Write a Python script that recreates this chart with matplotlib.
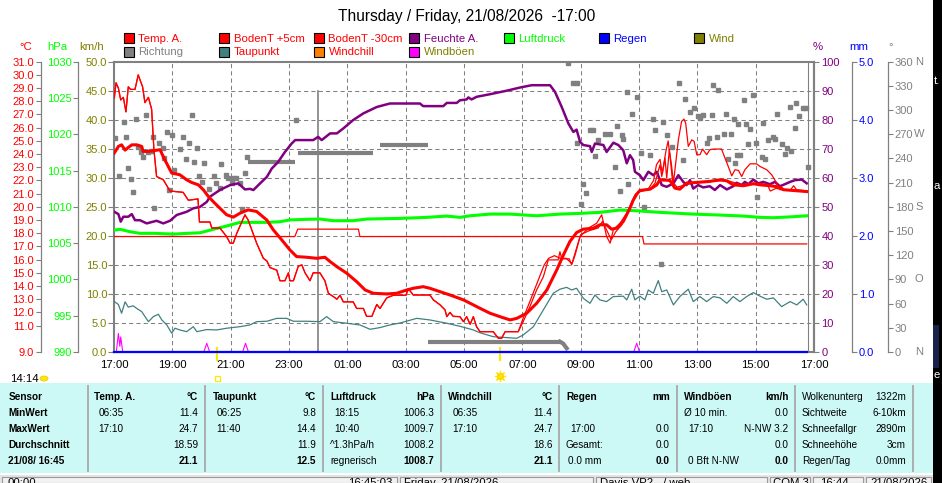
import matplotlib
matplotlib.use("Agg")
import matplotlib.pyplot as plt
import matplotlib.transforms as mtransforms
from matplotlib.patches import Rectangle, Ellipse
import numpy as np

plt.rcParams['font.family'] = ['Liberation Sans', 'DejaVu Sans']

# ---------------- data (time = hours since Thursday 00:00) ----------------
hour_ticks = [17, 19, 21, 23, 25, 27, 29, 31, 33, 35, 37, 39, 41]
hour_labels = ['17:00', '19:00', '21:00', '23:00', '01:00', '03:00', '05:00',
               '07:00', '09:00', '11:00', '13:00', '15:00', '17:00']

temp_ticks = [31, 30, 29, 28, 27, 26, 25, 24, 23, 22, 21, 20, 19, 18, 17, 16, 15, 14, 13, 12, 11, 9]
hpa_ticks = [1030, 1025, 1020, 1015, 1010, 1005, 1000, 995, 990]
kmh_ticks = [50, 45, 40, 35, 30, 25, 20, 15, 10, 5, 0]
pct_ticks = [100, 90, 80, 70, 60, 50, 40, 30, 20, 10, 0]
mm_ticks = [5.0, 4.0, 3.0, 2.0, 1.0, 0.0]
deg_ticks = [360, 330, 300, 270, 240, 210, 180, 150, 120, 90, 60, 30, 0]
deg_letters = [(360, 'N'), (270, 'W'), (180, 'S'), (90, 'O'), (0, 'N')]

# Temp. A. (thick red)
temp_a = [(17.01,24.08),(17.15,24.58),(17.26,24.7),(17.38,24.3),(17.49,24.5),(17.61,24.7),(17.78,24.7),
          (17.95,24.58),(18.0,24.2),(18.18,24.2),(18.58,24.33),(18.69,23.8),(18.86,23.06),(18.98,22.56),
          (19.26,22.43),(19.49,22.05),(19.66,21.85),(19.89,21.67),(20.06,21.3),(20.23,20.8),(20.40,20.4),
          (20.63,19.9),(20.86,19.4),(21.09,19.22),(21.32,19.52),(21.60,19.77),(21.89,19.65),(22.24,19.0),
          (22.46,18.26),(22.75,17.5),(23.03,16.74),(23.26,16.23),(23.61,16.18),(23.95,16.1),(24.23,16.18),
          (24.41,15.85),(24.64,15.47),(24.98,14.97),(25.32,14.33),(25.61,13.7),(25.89,13.45),(26.35,13.4),
          (26.69,13.45),(27.04,13.7),(27.26,13.83),(27.60,13.95),(27.83,13.83),(28.18,13.57),(28.52,13.32),
          (28.98,12.95),(29.32,12.57),(29.55,12.31),(29.89,11.94),(30.23,11.68),(30.58,11.43),(30.81,11.55),
          (31.15,11.94),(31.49,12.69),(31.84,13.7),(32.18,15.22),(32.41,16.36),(32.63,17.37),(32.86,18.05),
          (33.09,18.31),(33.43,18.38),(33.66,18.64),(33.89,18.64),(34.06,18.31),(34.23,18.38),(34.46,18.89),
          (34.69,19.9),(34.8,20.5),(34.92,20.95),(35.03,21.24),(35.38,21.34),(35.61,21.67),(35.72,22.05),
          (36.06,22.0),(36.23,21.42),(36.4,21.34),(36.63,21.8),(36.98,21.85),(37.43,21.93),(37.78,22.05),
          (38.01,21.97),(38.23,21.67),(38.58,21.6),(38.92,21.75),(39.15,21.67),(39.49,21.6),(39.83,21.5),
          (39.95,21.3),(40.29,21.24),(40.75,21.16)]

# BodenT +5cm (thin jagged red)
boden_5 = [(17.01,28.25),(17.07,29.4),(17.15,29.0),(17.23,28.1),(17.32,28.3),(17.41,27.2),(17.49,29.1),
           (17.57,28.9),(17.72,28.9),(17.83,30.0),(17.98,29.1),(18.06,27.9),(18.18,28.3),(18.29,27.4),
           (18.37,24.3),(18.46,22.3),(18.69,22.05),(18.92,21.2),(19.37,21.1),(19.55,20.5),(19.88,20.6),
           (19.93,18.85),(20.29,18.85),(20.35,18.4),(20.63,18.4),(20.86,17.75),(20.98,17.25),(21.09,17.25),
           (21.21,18.0),(21.49,19.4),(21.60,19.0),(21.89,17.25),(22.12,16.1),(22.24,15.9),(22.35,15.4),
           (22.58,15.2),(22.69,14.4),(22.86,14.4),(22.98,15.0),(23.03,14.4),(23.15,14.4),(23.32,15.5),
           (23.44,15.6),(23.55,15.0),(23.72,14.4),(23.83,15.0),(24.06,15.0),(24.23,14.4),(24.35,13.45),
           (24.52,13.2),(24.64,13.0),(24.75,13.3),(24.86,12.8),(25.20,12.8),(25.32,12.3),(25.55,12.3),
           (25.66,11.7),(25.84,11.7),(26.01,12.6),(26.12,12.3),(26.35,13.1),(26.58,13.3),(27.01,13.3),
           (27.09,13.8),(27.26,13.32),(27.83,13.32),(27.95,12.95),(28.18,12.57),(28.35,12.19),(28.41,11.68),
           (28.52,12.0),(28.63,11.7),(28.86,11.68),(28.98,11.3),(29.09,11.68),(29.21,11.1),(29.32,11.68),
           (29.43,10.92),(29.55,10.54),(30.0,10.54),(30.18,10.04),(30.29,10.04),(30.41,10.54),(30.86,10.54),
           (31.03,11.3),(31.26,12.44),(31.49,13.7),(31.72,14.7),(31.89,15.98),(32.23,15.98),(32.29,16.6),
           (32.35,16.06),(32.61,16.06),(32.69,15.6),(32.81,16.36),(32.98,17.75),(33.26,18.38),(33.55,18.76),
           (33.72,19.4),(33.89,17.75),(34.01,17.25),(34.12,18.26),(34.35,18.76),(34.58,19.52),(34.69,20.03),
           (34.86,20.9),(35.03,21.16),(35.38,21.34),(35.55,21.8),(35.66,22.68),(35.72,23.19),(35.78,22.3),
           (35.89,23.7),(35.95,22.18),(36.04,24.33),(36.12,23.06),(36.18,21.8),(36.35,25.08),(36.46,26.47),
           (36.54,26.65),(36.6,26.35),(36.69,24.58),(36.81,25.08),(36.89,24.96),(36.98,23.95),(37.09,23.95),
           (37.18,24.38),(37.32,23.95),(37.43,24.33),(37.55,24.38),(37.83,24.38),(37.95,23.7),(38.06,23.06),
           (38.18,22.35),(38.29,22.81),(38.41,22.76),(38.52,22.3),(38.63,22.81),(38.81,23.26),(39.03,23.26),
           (39.15,23.06),(39.38,22.81),(39.55,22.43),(39.72,21.8),(39.83,21.3),(40.18,21.3),(40.75,21.16)]

# second thin red trace (differs from BodenT +5cm during the day)
temp_b_day = [(31.0,11.4),(31.2,12.5),(31.5,14.2),(31.75,15.6),(31.9,16.1),(32.1,16.3),(32.3,16.1),
              (32.5,16.1),(32.7,15.7),(32.85,16.8),(33.0,17.9),(33.3,18.2),(33.6,18.4),(33.75,18.9),
              (33.9,18.2),(34.05,17.5),(34.2,18.1),(34.4,18.6),(34.6,19.5),(34.75,20.3),(34.9,21.0),
              (35.05,21.2),(35.3,21.3),(35.5,22.0),(35.6,23.2),(35.72,23.6),(35.8,22.5),(35.92,24.2),
              (36.0,25.0),(36.08,23.5),(36.15,21.9),(36.3,21.5),(36.5,21.6),(37.0,21.9),(38.0,22.0),
              (38.5,21.7),(39.0,21.8),(39.4,21.7),(39.5,21.2),(39.7,21.4),(39.9,21.3),(40.2,21.3),
              (40.3,21.6),(40.4,21.3),(40.75,21.2)]

# BodenT -30cm (flat stepped red)
boden_30 = [(17.0,17.75),(23.2,17.75),(23.3,18.31),(25.38,18.31),(25.43,17.75),(35.12,17.75),
            (35.17,17.19),(40.75,17.19)]

# Taupunkt
dewpoint = [(17.01,12.82),(17.15,12.6),(17.26,11.94),(17.38,12.8),(17.49,12.4),(17.66,12.5),(17.78,12.3),
            (17.95,12.06),(18.18,11.3),(18.35,11.68),(18.52,11.86),(18.64,11.43),(18.81,11.05),(18.98,10.42),
            (19.09,10.8),(19.26,10.67),(19.49,10.54),(19.72,10.92),(19.84,10.54),(20.18,10.7),(20.52,10.67),
            (20.86,10.8),(21.32,10.92),(21.66,11.05),(21.89,11.3),(22.24,11.33),(22.58,11.55),(22.92,11.55),
            (23.15,11.33),(23.61,11.33),(24.06,11.3),(24.29,11.68),(24.52,11.3),(24.98,11.18),(25.43,11.05),
            (25.78,10.72),(26.12,10.85),(26.46,11.05),(26.81,11.2),(27.38,11.55),(27.83,11.43),(28.41,11.18),
            (28.86,10.95),(29.32,10.67),(29.55,10.46),(30.0,10.16),(30.81,10.04),(31.03,10.29),(31.38,10.92),
            (31.72,12.19),(32.06,13.45),(32.29,13.76),(32.52,13.9),(32.69,13.7),(32.86,13.83),(33.09,13.07),
            (33.32,12.69),(33.49,13.32),(33.66,12.95),(33.89,12.82),(34.12,13.2),(34.46,13.23),(34.58,12.95),
            (34.75,13.76),(34.86,12.95),(35.03,13.23),(35.2,12.95),(35.32,13.7),(35.49,13.45),(35.66,14.41),
            (35.78,13.57),(35.95,13.7),(36.18,12.57),(36.4,13.2),(36.69,13.76),(36.86,12.82),(37.09,13.2),
            (37.32,12.82),(37.55,13.2),(37.78,13.1),(38.01,12.69),(38.23,13.2),(38.46,12.82),(38.69,13.2),
            (38.92,13.5),(39.15,13.23),(39.38,13.0),(39.61,13.1),(39.89,12.44),(40.18,12.82),(40.41,12.57),
            (40.63,13.0),(40.75,12.57)]

# Feuchte A. (%)
humidity = [(17.01,48.3),(17.15,47.5),(17.23,44.9),(17.32,46.6),(17.49,46.6),(17.61,47.5),(17.72,45.4),
            (17.89,45.4),(18.12,44.3),(18.46,45.2),(18.69,44.3),(18.92,45.2),(19.15,47.2),(19.49,48.3),
            (19.72,49.5),(19.95,50.0),(20.18,51.7),(20.29,53.5),(20.63,55.8),(20.98,57.5),(21.26,58.1),
            (21.49,56.0),(21.66,56.2),(21.78,55.8),(22.01,58.1),(22.24,60.3),(22.41,63.2),(22.63,65.5),
            (22.86,68.9),(23.09,71.8),(23.21,73.0),(23.83,73.0),(24.0,74.1),(24.12,73.0),(24.41,75.3),
            (24.64,75.3),(24.86,77.0),(25.20,79.9),(25.55,82.2),(25.78,83.3),(26.01,84.4),(26.46,85.6),
            (27.49,85.6),(27.60,84.7),(28.29,84.7),(28.41,85.8),(28.75,85.8),(28.86,86.7),(29.09,87.0),
            (29.15,87.7),(29.26,87.0),(29.43,87.9),(29.89,88.8),(30.46,90.0),(30.92,91.1),(31.32,91.9),
            (31.95,91.9),(32.12,89.6),(32.35,84.4),(32.58,78.7),(32.75,75.8),(32.86,76.6),(32.98,72.4),
            (33.09,71.3),(33.32,70.9),(33.38,68.9),(33.49,71.8),(33.78,71.3),(33.89,68.9),(34.12,72.1),
            (34.29,71.3),(34.46,69.5),(34.58,65.0),(34.69,67.8),(34.8,66.1),(34.86,62.1),(35.03,60.9),
            (35.15,59.2),(35.32,62.1),(35.49,60.9),(35.61,62.1),(35.78,57.5),(35.95,56.9),(36.18,58.1),
            (36.35,60.9),(36.52,58.6),(36.63,57.5),(36.75,59.2),(36.86,56.3),(37.03,57.5),(37.2,56.7),
            (37.43,57.1),(37.6,55.8),(37.78,57.5),(38.01,56.0),(38.23,57.1),(38.35,58.3),(38.52,57.5),
            (38.63,58.6),(38.75,57.8),(38.92,59.4),(39.09,58.1),(39.26,58.6),(39.49,57.8),(39.66,58.6),
            (39.83,57.1),(40.0,57.8),(40.18,58.6),(40.35,59.2),(40.58,59.4),(40.75,58.1)]

# Luftdruck (hPa)
pressure = [(17.01,1006.8),(17.21,1006.9),(17.55,1006.57),(17.89,1006.35),(18.35,1006.35),(19.03,1006.25),
            (19.95,1006.43),(20.40,1006.9),(20.86,1007.36),(21.32,1007.86),(22.24,1007.86),(22.69,1007.95),
            (23.03,1008.2),(23.61,1008.28),(24.06,1008.32),(24.52,1008.09),(25.20,1008.09),(25.66,1008.32),
            (26.81,1008.41),(27.72,1008.55),(28.41,1008.73),(28.86,1008.55),(29.21,1008.77),(29.89,1009.0),
            (30.58,1009.0),(31.49,1008.77),(32.29,1009.0),(32.98,1009.1),(33.66,1009.24),(34.35,1009.56),
            (34.92,1009.46),(35.72,1009.24),(36.86,1009.0),(37.78,1008.87),(38.58,1008.73),(39.15,1008.55),
            (39.61,1008.5),(40.29,1008.64),(40.75,1008.77)]

# Richtung (deg) single readings
direction = [(17.03,265.0),(17.18,218.3),(17.34,285.6),(17.41,267.0),(17.49,227.8),(17.58,214.2),(17.64,198.0),
             (17.75,288.6),(17.81,254.6),(17.92,248.4),(17.98,242.2),(18.10,293.9),(18.18,248.4),(18.26,249.6),
             (18.33,267.0),(18.38,178.2),(18.55,258.8),(18.69,252.6),(18.72,240.2),(18.81,273.2),(18.89,200.9),
             (18.98,269.1),(19.07,225.7),(19.26,251.4),(19.38,267.0),(19.47,239.0),(19.57,258.8),(19.66,293.9),
             (19.74,236.0),(19.84,252.6),(19.92,218.3),(20.01,211.2),(20.09,234.0),(20.27,201.8),(20.43,218.6),
             (20.50,210.0),(20.63,203.0),(20.66,233.1),(20.84,219.5),(20.92,215.4),(21.04,210.0),(21.09,215.4),
             (21.18,215.4),(21.32,209.2),(21.40,177.0),(21.49,221.6),(21.57,242.2),(23.24,287.7),
             (32.58,358.8),(32.73,334.0),(32.88,334.0),(32.89,259.6),(33.0,183.5),(33.09,208.3),(33.18,196.8),
             (33.32,275.3),(33.42,275.3),(33.49,243.1),(33.6,262.9),(33.83,270.3),(34.0,270.3),(34.18,229.0),
             (34.23,280.3),(34.35,200.0),(34.41,269.1),(34.46,263.8),(34.58,322.8),(34.63,208.3),(34.75,295.1),
             (34.92,315.8),(35.06,246.4),(35.17,180.2),(35.38,244.3),(35.49,288.6),(35.55,275.3),(35.75,109.1),
             (35.81,285.6),(35.95,269.1),(36.12,254.6),(36.38,334.0),(36.5,238.1),(36.58,313.7),(36.75,298.0),
             (36.9,302.2),(37.01,292.7),(37.09,289.8),(37.18,293.9),(37.34,258.8),(37.41,265.0),(37.49,293.9),
             (37.55,331.1),(37.66,267.0),(37.72,324.9),(37.91,270.3),(37.98,295.1),(38.06,239.0),(38.14,270.3),
             (38.26,288.6),(38.29,234.0),(38.35,244.3),(38.46,244.3),(38.41,282.7),(38.6,312.5),(38.67,282.7),
             (38.75,257.6),(38.81,276.2),(38.9,318.7),(39.01,259.6),(39.03,192.6),(39.21,241.4),(39.26,284.4),
             (39.32,239.0),(39.43,262.9),(39.58,266.2),(39.66,263.8),(39.72,295.1),(39.89,257.6),(40.0,245.5),
             (40.06,252.6),(40.18,304.2),(40.2,249.6),(40.35,277.4),(40.38,308.4),(40.5,292.7),(40.61,302.2),
             (40.72,302.2),(40.78,229.8)]
# Richtung: periods of constant direction (start, end, deg)
direction_calm = [(21.60, 23.20, 235.2), (23.32, 25.89, 246.4), (26.12, 27.78, 256.3), (27.78, 32.29, 12.8)]
direction_tail = [(32.29, 12.8), (32.40, 10.5), (32.52, 4.6)]

# Windböen (km/h)
gusts = [(17.0,0),(17.08,0),(17.15,3.2),(17.2,1.0),(17.23,2.6),(17.3,0),(20.08,0),(20.18,1.5),(20.28,0),
         (21.41,0),(21.51,1.5),(21.61,0),(34.82,0),(34.92,1.5),(35.02,0),(40.75,0)]
wind = [(17.0,0.0),(40.75,0.0)]
rain = [(17.0,0.0),(40.75,0.0)]

sunset_t, sunrise_t, now_t = 20.52, 30.23, 40.79

legend_items = [("Temp. A.", '#FF0000', '#FF0000'), ("BodenT +5cm", '#FF0000', '#FF0000'),
                ("BodenT -30cm", '#FF0000', '#FF0000'), ("Feuchte A.", '#800080', '#800080'),
                ("Luftdruck", '#00FF00', '#00FF00'), ("Regen", '#0000FF', '#0000FF'),
                ("Wind", '#808000', '#808000'), ("Richtung", '#808080', '#808080'),
                ("Taupunkt", '#408080', '#FF0000'), ("Windchill", '#FF8000', '#FF0000'),
                ("Windböen", '#FF00FF', '#808000')]

# table columns: rows of (left text, right text)
table_cols = [
    [("Sensor", ""), ("MinWert", ""), ("MaxWert", ""), ("Durchschnitt", ""), ("21/08/ 16:45", "")],
    [("Temp. A.", "°C"), ("06:35", "11.4"), ("17:10", "24.7"), ("", "18.59"), ("", "21.1")],
    [("Taupunkt", "°C"), ("06:25", "9.8"), ("11:40", "14.4"), ("", "11.9"), ("", "12.5")],
    [("Luftdruck", "hPa"), ("18:15", "1006.3"), ("10:40", "1009.7"), ("^1.3hPa/h", "1008.2"), ("regnerisch", "1008.7")],
    [("Windchill", "°C"), ("06:35", "11.4"), ("17:10", "24.7"), ("", "18.6"), ("", "21.1")],
    [("Regen", "mm"), ("", ""), ("17:00", "0.0"), ("Gesamt:", "0.0"), ("0.0 mm", "0.0")],
    [("Windböen", "km/h"), ("Ø 10 min.", "0.0"), ("17:10", "N-NW 3.2"), ("", "0.0"), ("0 Bft N-NW", "0.0")],
    [("Wolkenunterg", "1322m"), ("Sichtweite", "6-10km"), ("Schneefallgr", "2890m"), ("Schneehöhe", "3cm"), ("Regen/Tag", "0.0mm")],
]

# ---------------- drawing ----------------
W, H = 942, 483
fig = plt.figure(figsize=(W / 100, H / 100), dpi=100)
def fx(x): return x / W
def fy(y): return 1 - y / H

RED, GREEN, OLIVE, PURPLE = '#FF0000', '#00FF00', '#808000', '#800080'
BLUE, GRAY, TEAL, MAGENTA = '#0000FF', '#808080', '#408080', '#FF00FF'
L, R, T, B = 114.0, 814.0, 61.7, 352.0
rect = [fx(L), fy(B), (R - L) / W, (B - T) / H]

ax = fig.add_axes(rect, label='kmh')
ax.set_xlim(17, 41)
ax.set_ylim(0, 50)
for s in ax.spines.values():
    s.set_color(GRAY); s.set_linewidth(1.5)
ax.set_xticks(hour_ticks)
ax.set_xticklabels(hour_labels)
ax.tick_params(axis='x', length=0, pad=6, labelsize=8.2, labelcolor='black')
ax.set_yticks(kmh_ticks)
ax.set_yticklabels([f"{v:.1f}" for v in kmh_ticks])
ax.tick_params(axis='y', direction='out', length=4.0, width=0.8, color=GRAY, labelcolor=OLIVE,
               labelsize=8, pad=0.8)
for yv in kmh_ticks[1:-1]:
    ax.axhline(yv, color=GRAY, lw=0.75, ls=(0, (4, 3)), zorder=0)
for xv in hour_ticks[1:-1]:
    ax.axvline(xv, color=GRAY, lw=0.75, ls=(0, (4, 3)), zorder=0)
ax.axvline(24, ymin=0, ymax=0.9, color=GRAY, lw=1.2, zorder=0)
ax.axvline(now_t, color=GRAY, lw=0.8, zorder=0)
gt, gv = zip(*gusts)
ax.plot(gt, gv, color=MAGENTA, lw=0.8)
wt, wv = zip(*wind)
ax.plot(wt, wv, color=OLIVE, lw=1.0)

def make_twin(name):
    a = fig.add_axes(rect, label=name, sharex=ax)
    a.patch.set_visible(False)
    a.xaxis.set_visible(False)
    for s in a.spines.values():
        s.set_visible(False)
    a.tick_params(axis='y', left=False, right=False, labelleft=False, labelright=False)
    return a

def y_scale(a, side, xpos, lo, hi, ticks, labels, color, pad, lw=0.9):
    a.set_ylim(lo, hi)
    sp = a.spines[side]
    sp.set_visible(True)
    sp.set_position(('axes', (xpos - L) / (R - L)))
    sp.set_color(GRAY); sp.set_linewidth(lw)
    a.set_yticks(ticks)
    a.set_yticklabels(labels)
    if side == 'left':
        a.tick_params(axis='y', left=True, labelleft=True)
    else:
        a.tick_params(axis='y', right=True, labelright=True)
    a.tick_params(axis='y', direction='out', length=3.6, width=0.8, color=GRAY,
                  labelcolor=color, labelsize=8, pad=pad)

ax_d = make_twin('deg')
y_scale(ax_d, 'right', 888, 0, 360, deg_ticks, [str(v) for v in deg_ticks], GRAY, 1.2)
dt, dv = zip(*direction)
ax_d.plot(dt, dv, ls='none', marker='s', ms=3.2, color=GRAY, mec=GRAY)
for t0, t1, d in direction_calm:
    ax_d.plot([t0, t1], [d, d], color=GRAY, lw=3.0, solid_capstyle='butt')
tt_, tv_ = zip(*direction_tail)
ax_d.plot(tt_, tv_, color=GRAY, lw=3.0)
blend_d = mtransforms.blended_transform_factory(fig.transFigure, ax_d.transData)
for d, letter in deg_letters:
    ax_d.text(fx(919), d, letter, transform=blend_d, ha='center', va='center', fontsize=8, color=GRAY)

ax_p = make_twin('hpa')
y_scale(ax_p, 'left', 77.7, 990, 1030, hpa_ticks, [str(v) for v in hpa_ticks], GREEN, 0.8)
pt, pv = zip(*pressure)
ax_p.plot(pt, pv, color=GREEN, lw=2.2)

ax_h = make_twin('pct')
y_scale(ax_h, 'right', 814, 0, 100, pct_ticks, [str(v) for v in pct_ticks], PURPLE, 1.8, lw=1.5)
ht, hv = zip(*humidity)
ax_h.plot(ht, hv, color=PURPLE, lw=1.8)

ax_t = make_twin('temp')
y_scale(ax_t, 'left', 41, 9, 31, temp_ticks, [f"{v:.1f}" for v in temp_ticks], RED, 1.4)
b30t, b30v = zip(*boden_30)
ax_t.plot(b30t, b30v, color=RED, lw=0.9)
dpt, dpv = zip(*dewpoint)
ax_t.plot(dpt, dpv, color=TEAL, lw=0.9)
temp_b = [p for p in boden_5 if p[0] <= 30.86] + temp_b_day
tbt, tbv = zip(*temp_b)
ax_t.plot(tbt, tbv, color=RED, lw=0.9)
b5t, b5v = zip(*boden_5)
ax_t.plot(b5t, b5v, color=RED, lw=0.9)
tat, tav = zip(*temp_a)
ax_t.plot(tat, tav, color=RED, lw=2.2)

ax_r = make_twin('mm')
y_scale(ax_r, 'right', 851.7, 0, 5, mm_ticks, [f"{v:.1f}" for v in mm_ticks], BLUE, 1.4)
rt, rv = zip(*rain)
ax_r.plot(rt, rv, color=BLUE, lw=1.6, clip_on=False)

# sunset / sunrise markers
blend_x = mtransforms.blended_transform_factory(ax.transData, fig.transFigure)
for tm in (sunset_t, sunrise_t):
    ax.plot([tm, tm], [fy(348), fy(360)], color='#FFE800', lw=1.6, transform=blend_x, clip_on=False)
ax.plot([sunset_t], [fy(378)], marker='s', ms=3.6, mfc='none', mec='#FFE800', mew=0.9,
        transform=blend_x, clip_on=False)
ax.plot([sunrise_t], [fy(376)], marker=(8, 2, 0), ms=8, color='#FFE800', mew=0.9,
        transform=blend_x, clip_on=False)
ax.plot([sunrise_t], [fy(376)], marker='o', ms=4, color='#FFE800', mec='#FFD000',
        transform=blend_x, clip_on=False)

# ---------------- texts ----------------
fig.text(fx(467), fy(20.7), "Thursday / Friday, 21/08/2026  -17:00", ha='center', va='baseline',
         fontsize=11.2, color='black')
for i, (lab, sq, tc) in enumerate(legend_items):
    col, row = (i, 0) if i < 7 else (i - 7, 1)
    x0 = 124 + 95 * col
    y0 = 33 if row == 0 else 46.7
    fig.patches.append(Rectangle((fx(x0), fy(y0 + 10)), 10 / W, 10 / H, transform=fig.transFigure,
                                 facecolor=sq, edgecolor='black', lw=0.8))
    fig.text(fx(138.5 + 95 * col), fy(41.7 if row == 0 else 55), lab, color=tc, fontsize=8.2,
             va='baseline', ha='left')

for x, s, c in [(26, "°C", RED), (57, "hPa", GREEN), (92, "km/h", OLIVE), (818, "%", PURPLE),
                (859, "mm", BLUE), (891, "°", GRAY)]:
    fig.text(fx(x), fy(50), s, color=c, fontsize=8.2, ha='center', va='baseline')

fig.text(fx(10), fy(381.7), "14:14", fontsize=8.2, va='baseline', ha='left')
fig.patches.append(Ellipse((fx(44), fy(378.5)), 8 / W, 5 / H, transform=fig.transFigure,
                           facecolor='#FFE800', edgecolor='#F0C000', lw=0.5))

# table
fig.patches.append(Rectangle((0, fy(473.3)), 933 / W, (473.3 - 382.7) / H, transform=fig.transFigure,
                             facecolor='#CCF8F5', edgecolor='none'))
seps = [88, 205, 323, 441, 559, 677, 795, 913]
for xs in seps:
    fig.add_artist(plt.Line2D([fx(xs), fx(xs)], [fy(386), fy(471)], transform=fig.transFigure,
                              color='#A8A8A8', lw=1.3))
col_left = [8.3, 94, 212.7, 330, 448.3, 566, 684, 801.7]
col_left2 = [8.3, 98.3, 216.7, 334.3, 452.3, 570.7, 688.3, 801.7]
col_right = [None, 198, 316, 434.5, 552.5, 670, 788.5, 906]
baselines = [400, 416, 432, 448, 464]
for ci, rows in enumerate(table_cols):
    for ri, (lt, rtx) in enumerate(rows):
        bold_l = (ci == 0) or (ri == 0 and ci < 7)
        bold_r = (ci < 7) and (ri == 0 or ri == 4)
        if lt:
            xl = col_left[ci]
            if ci in (1, 2, 3, 4) and ri in (1, 2):
                xl = col_left2[ci]
            if ci == 5 and ri == 2:
                xl = col_left2[ci]
            if ci == 5 and ri == 4:
                xl = 568.3
            if ci == 6 and ri in (2, 4):
                xl = col_left2[ci]
            fig.text(fx(xl), fy(baselines[ri]), lt, fontsize=7.2, ha='left', va='baseline',
                     fontweight='bold' if bold_l else 'normal', color='black')
        if rtx:
            fig.text(fx(col_right[ci]), fy(baselines[ri]), rtx, fontsize=7.2, ha='right', va='baseline',
                     fontweight='bold' if bold_r else 'normal', color='black')

# status bar (cut off at the bottom edge, as in the screenshot)
fig.patches.append(Rectangle((0, 0), 933 / W, (H - 474.5) / H, transform=fig.transFigure,
                             facecolor='#E4E4E4', edgecolor='none'))
for x0, x1 in [(2, 397), (400, 593), (596, 767), (770, 810), (813, 863), (866, 931)]:
    fig.patches.append(Rectangle((fx(x0), 0), (x1 - x0) / W, (H - 476.5) / H, transform=fig.transFigure,
                                 facecolor='#F2F2F2', edgecolor='#9A9A9A', lw=0.8))
for x, s, ha in [(7, "00:00", 'left'), (392, "16:45:03", 'right'), (404, "Friday, 21/08/2026", 'left'),
                 (600, "Davis VP2 - / web", 'left'), (773, "COM 3", 'left'), (820, "16:44", 'left'),
                 (870, "21/08/2026", 'left')]:
    fig.text(fx(x), fy(478.5), s, fontsize=8.2, ha=ha, va='top', color='black')

# black strip at right edge
fig.patches.append(Rectangle((fx(933), 0), 9 / W, 1, transform=fig.transFigure,
                             facecolor='black', edgecolor='none'))
fig.patches.append(Rectangle((fx(933), fy(368)), 6 / W, 43 / H, transform=fig.transFigure,
                             facecolor='#18224A', edgecolor='none'))
for y, s in [(84, "t."), (189, "a"), (378, "e")]:
    fig.text(fx(934), fy(y), s, fontsize=8.2, color='white', ha='left', va='baseline')

fig.savefig("out.png", dpi=100)
